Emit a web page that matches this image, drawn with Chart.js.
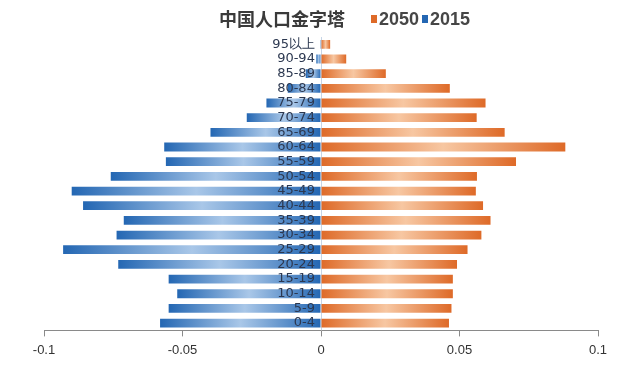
<!DOCTYPE html>
<html>
<head>
<meta charset="utf-8">
<script src="https://cdn.jsdelivr.net/npm/chart.js@4"></script>
<style>
  html, body { margin: 0; padding: 0; background: #fff; }
  #wrap { width: 640px; height: 368px; position: relative; }
</style>
</head>
<body>
<div id="wrap"><canvas id="pyramid"></canvas></div>
<script>
// age groups, youngest first (axis is reversed so 0-4 sits at the bottom)
var ages = ['0-4', '5-9', '10-14', '15-19', '20-24', '25-29', '30-34', '35-39', '40-44', '45-49',
            '50-54', '55-59', '60-64', '65-69', '70-74', '75-79', '80-84', '85-89', '90-94', '95以上'];
// share of population, 2050 to the right
var pop2050 = [0.0462, 0.0471, 0.0476, 0.0476, 0.0491, 0.0529, 0.0579, 0.0612, 0.0585, 0.0559,
               0.0563, 0.0704, 0.0882, 0.0663, 0.0562, 0.0594, 0.0465, 0.0234, 0.0091, 0.0033];
// 2015 drawn to the left, so negative
var pop2015 = [-0.0581, -0.0550, -0.0519, -0.0550, -0.0732, -0.0931, -0.0738, -0.0712, -0.0859, -0.0900,
               -0.0759, -0.0560, -0.0566, -0.0399, -0.0268, -0.0197, -0.0120, -0.0055, -0.0017, -0.0003];
var xTicks = [-0.1, -0.05, 0, 0.05, 0.1];

var orange = { dark: '#de6a28', light: '#f7c7a2' };
var blue = { dark: '#2467b3', light: '#a9c7e8' };

function barFill(c, col) {
    var chart = c.chart;
    if (!chart.chartArea || c.raw === undefined) return col.dark;
    var xs = chart.scales.x;
    var x0 = xs.getPixelForValue(0);
    var x1 = xs.getPixelForValue(c.raw);
    if (Math.abs(x1 - x0) < 1) return col.dark;
    var g = chart.ctx.createLinearGradient(x1, 0, x0, 0);
    g.addColorStop(0, col.dark);
    g.addColorStop(0.5, col.light);
    g.addColorStop(1, col.dark);
    return g;
}

// title and legend share one line in the original
var header = {
    id: 'header',
    afterDraw: function(chart) {
        var ctx = chart.ctx;
        ctx.save();
        ctx.textBaseline = 'middle';
        ctx.fillStyle = '#3a3a3a';
        ctx.font = 'bold 18px "Noto Sans CJK SC"';
        ctx.textAlign = 'left';
        ctx.fillText('中国人口金字塔', 219, 19);
        var items = [
            { x: 371, text: '2050', color: orange.dark },
            { x: 422, text: '2015', color: blue.dark }
        ];
        ctx.font = 'bold 18px "Liberation Sans Narrow", "Liberation Sans", sans-serif';
        items.forEach(function(it) {
            ctx.fillStyle = it.color;
            ctx.fillRect(it.x, 15, 6, 8);
            ctx.fillStyle = '#464646';
            ctx.fillText(it.text, it.x + 8, 20);
        });
        ctx.restore();
    }
};

var ctx = document.getElementById('pyramid').getContext('2d');
var myChart = new Chart(ctx, {
    type: 'bar',
    data: {
        labels: ages,
        datasets: [{
            label: '2050',
            data: pop2050,
            backgroundColor: function(c) { return barFill(c, orange); },
            barPercentage: 0.6,
            categoryPercentage: 1
        }, {
            label: '2015',
            data: pop2015,
            backgroundColor: function(c) { return barFill(c, blue); },
            barPercentage: 0.6,
            categoryPercentage: 1
        }]
    },
    options: {
        indexAxis: 'y',
        responsive: true,
        maintainAspectRatio: false,
        animation: false,
        layout: {
            padding: { top: 37, left: 44, right: 42, bottom: 4 }
        },
        scales: {
            x: {
                stacked: true,
                min: -0.1,
                max: 0.1,
                afterBuildTicks: function(scale) {
                    scale.ticks = xTicks.map(function(v) { return { value: v }; });
                },
                grid: {
                    drawOnChartArea: true,
                    drawTicks: true,
                    tickLength: 6,
                    tickColor: '#8a8a8a',
                    color: function(c) {
                        return c.tick && c.tick.value === 0 ? '#c6d5e6' : 'rgba(0,0,0,0)';
                    }
                },
                border: { color: '#8a8a8a', width: 1 },
                ticks: {
                    padding: 6,
                    color: '#333',
                    font: { family: 'Liberation Sans', size: 13 },
                    callback: function(v) { return String(v); }
                }
            },
            y: {
                stacked: true,
                reverse: true,
                // labels sit just left of the zero line
                position: { x: -0.0022 },
                grid: { display: false, drawTicks: false },
                border: { display: false },
                ticks: {
                    z: 2,
                    autoSkip: false,
                    color: '#2c3850',
                    font: { family: 'DejaVu Sans', size: 13 }
                }
            }
        },
        plugins: {
            legend: { display: false },
            title: { display: false },
            tooltip: { enabled: false }
        }
    },
    plugins: [header]
});
</script>
</body>
</html>
